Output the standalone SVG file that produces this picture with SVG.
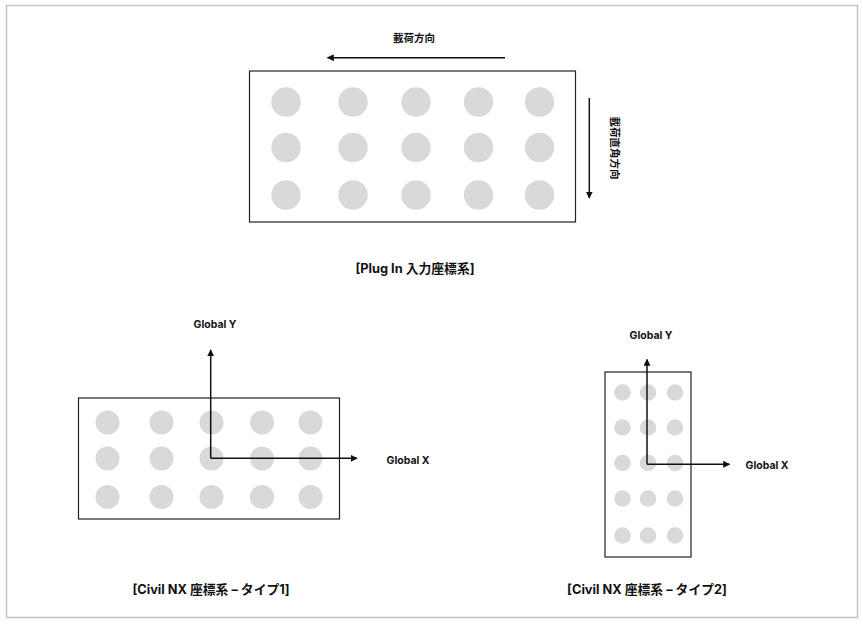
<svg xmlns="http://www.w3.org/2000/svg" width="863" height="624" viewBox="0 0 863 624">
<style>
.frame{fill:#fff;stroke:#c4c4c4;stroke-width:1.5}
.box{fill:#fff;stroke:#222;stroke-width:1.2}
.dot{fill:#d9d9d9}
.ax{fill:none;stroke:#111;stroke-width:1.5}
.t{font-family:Inter,"Noto Sans CJK JP",sans-serif;font-weight:bold;fill:#111}
.s{font-size:10.5px}
.m{font-size:12.8px}
</style>
<defs>
<marker id="ah" viewBox="0 0 10 10" refX="9" refY="5" markerWidth="7" markerHeight="7" markerUnits="userSpaceOnUse" orient="auto">
<path d="M0,0 L10,5 L0,10 z" fill="#111"/>
</marker>
</defs>
<rect class="frame" x="6.5" y="5.5" width="851" height="612"/>

<g id="plugin">
<rect class="box" x="249.5" y="71" width="326" height="151"/>
<g class="dot">
<circle cx="286" cy="102" r="14.7"/><circle cx="353" cy="102" r="14.7"/><circle cx="416" cy="102" r="14.7"/><circle cx="478.5" cy="102" r="14.7"/><circle cx="539.5" cy="102" r="14.7"/>
<circle cx="286" cy="147.5" r="14.7"/><circle cx="353" cy="147.5" r="14.7"/><circle cx="416" cy="147.5" r="14.7"/><circle cx="478.5" cy="147.5" r="14.7"/><circle cx="539.5" cy="147.5" r="14.7"/>
<circle cx="286" cy="195" r="14.7"/><circle cx="353" cy="195" r="14.7"/><circle cx="416" cy="195" r="14.7"/><circle cx="478.5" cy="195" r="14.7"/><circle cx="539.5" cy="195" r="14.7"/>
</g>
<text class="t s" x="414" y="42" text-anchor="middle">載荷方向</text>
<text class="t s" x="615" y="151.7" text-anchor="middle" transform="rotate(90 615 148)">載荷直角方向</text>
<text class="t m" x="415" y="272.5" text-anchor="middle">[Plug In 入力座標系]</text>
</g>

<g id="type1">
<rect class="box" x="78.5" y="398" width="261" height="121"/>
<g class="dot">
<circle cx="107.5" cy="422.5" r="12"/><circle cx="161.5" cy="422.5" r="12"/><circle cx="211.5" cy="422.5" r="12"/><circle cx="262" cy="422.5" r="12"/><circle cx="310.5" cy="422.5" r="12"/>
<circle cx="107.5" cy="458.5" r="12"/><circle cx="161.5" cy="458.5" r="12"/><circle cx="211.5" cy="458.5" r="12"/><circle cx="262" cy="458.5" r="12"/><circle cx="310.5" cy="458.5" r="12"/>
<circle cx="107.5" cy="497" r="12"/><circle cx="161.5" cy="497" r="12"/><circle cx="211.5" cy="497" r="12"/><circle cx="262" cy="497" r="12"/><circle cx="310.5" cy="497" r="12"/>
</g>
<text class="t s" x="215" y="328" text-anchor="middle">Global Y</text>
<text class="t s" x="386.5" y="464">Global X</text>
<text class="t m" x="211" y="593.5" text-anchor="middle">[Civil NX 座標系 – タイプ1]</text>
</g>

<g id="type2">
<rect class="box" x="605" y="372" width="86" height="185"/>
<g class="dot">
<circle cx="622.5" cy="392.5" r="8.3"/><circle cx="648" cy="392.5" r="8.3"/><circle cx="675" cy="392.5" r="8.3"/>
<circle cx="622.5" cy="427.5" r="8.3"/><circle cx="648" cy="427.5" r="8.3"/><circle cx="675" cy="427.5" r="8.3"/>
<circle cx="622.5" cy="463" r="8.3"/><circle cx="648" cy="463" r="8.3"/><circle cx="675" cy="463" r="8.3"/>
<circle cx="622.5" cy="498.5" r="8.3"/><circle cx="648" cy="498.5" r="8.3"/><circle cx="675" cy="498.5" r="8.3"/>
<circle cx="622.5" cy="535.5" r="8.3"/><circle cx="648" cy="535.5" r="8.3"/><circle cx="675" cy="535.5" r="8.3"/>
</g>
<text class="t s" x="651" y="338.5" text-anchor="middle">Global Y</text>
<text class="t s" x="745.5" y="468.5">Global X</text>
<text class="t m" x="647" y="593.5" text-anchor="middle">[Civil NX 座標系 – タイプ2]</text>
</g>

<g id="connectors">
<line class="ax" x1="505" y1="57.7" x2="327.5" y2="57.7" marker-end="url(#ah)"/>
<line class="ax" x1="589.3" y1="98" x2="589.3" y2="198" marker-end="url(#ah)"/>
<path class="ax" d="M210.7,458.3 V350" marker-end="url(#ah)"/>
<path class="ax" d="M210.7,458.3 H357" marker-end="url(#ah)"/>
<path class="ax" d="M647,464.3 V359.5" marker-end="url(#ah)"/>
<path class="ax" d="M647,464.3 H729.5" marker-end="url(#ah)"/>
</g>
</svg>
